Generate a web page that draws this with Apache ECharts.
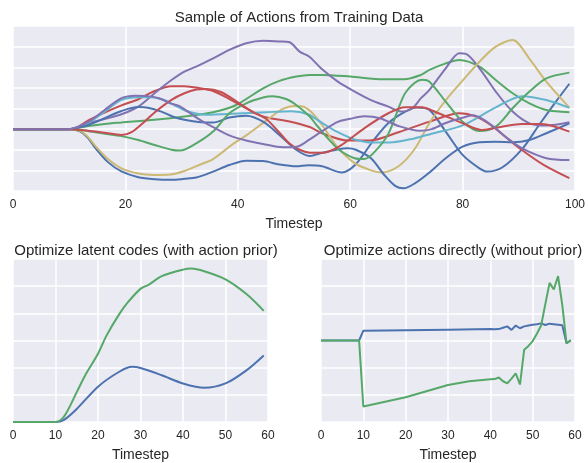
<!DOCTYPE html>
<html>
<head>
<meta charset="utf-8">
<script src="https://cdn.jsdelivr.net/npm/echarts@6/dist/echarts.min.js"></script>
<style>
    html, body { margin: 0; padding: 0; background: #fff; }
    #chart { width: 588px; height: 463px; }
</style>
</head>
<body>
<div id="chart"></div>
<script>
    // top panel: ten sampled action trajectories, [timestep, value]
    const blueLow = [[0,0],[10,0],[12,-0.12],[13.4,-0.45],[14.6,-0.9],[16.9,-1.6],[19.3,-2.05],[22.3,-2.33],[25.2,-2.43],[28.2,-2.46],[30.5,-2.41],[32.6,-2.35],[35.6,-2.06],[38.5,-1.74],[41.5,-1.53],[44.5,-1.55],[47.4,-1.71],[50.4,-1.8],[52.5,-1.75],[55,-1.8],[58.5,-2.1],[61,-1.7],[64,-0.6],[66.8,0.3],[69.8,0.85],[71.8,1.05],[74.1,0.93],[77,-0.12],[80,-1.25],[83,-1.9],[84.4,-2.06],[87.1,-1.85],[90.7,-0.93],[93.6,0.2],[96.6,1.33],[99,2.2]];
    const greenTop = [[0,0],[10,0],[13.4,0.15],[16.3,0.25],[19.3,0.32],[25.2,0.45],[30.5,0.61],[35.6,0.82],[39.7,1.17],[44.5,1.98],[47.4,2.34],[50.4,2.55],[52.8,2.63],[55,2.63],[60,2.55],[66,2.42],[69.6,2.42],[72.6,2.63],[74.1,2.87],[77,3.19],[79.4,3.35],[83,3.03],[85.9,2.38],[88.9,1.74],[91.9,1.25],[94.9,0.93],[99,0.82]];
    const redEarly = [[0,0],[10,0],[11.5,0.1],[13.4,0.42],[16.3,0.8],[19.3,1.15],[22.3,1.45],[25.2,1.85],[28.2,2.08],[30.5,2.08],[33,2.0],[35.6,1.85],[38.5,1.46],[41.5,1.01],[44.5,0.61],[49,0.38],[52.8,0.1],[55,-0.2],[59.5,-0.55],[63.5,-0.55],[68.6,-0.15],[74,0.35],[79.4,0.77],[82.4,0.61],[85,0.2],[87.5,-0.35],[90.5,-1.0],[94.5,-1.75],[99,-2.38]];
    const purpleHigh = [[0,0],[10,0],[13.4,0.28],[16.3,0.49],[19.3,0.72],[22.3,1.09],[25.2,1.74],[28.2,2.38],[30.5,2.79],[32.6,3.03],[35.6,3.43],[38.5,3.84],[41.5,4.16],[44.5,4.28],[47.4,4.25],[49.2,4.21],[51,3.76],[52.8,3.5],[54.8,2.95],[57.8,2.3],[60.8,1.82],[63.7,1.41],[66.7,1.1],[69,0.85],[71,1.0],[72.6,1.5],[74.1,1.9],[77,2.95],[79.4,3.68],[80.6,3.65],[83,2.95],[85.9,1.82],[88.9,0.85],[91.9,0.28],[94.9,0.17],[99,0.33]];
    const yellow = [[0,0],[10,0],[12,-0.1],[13.4,-0.4],[14.6,-0.8],[16.9,-1.45],[19.3,-1.9],[22.3,-2.15],[25,-2.22],[28,-2.2],[30.5,-2.03],[33,-1.75],[35.6,-1.45],[39,-0.75],[41.5,-0.3],[44,0.2],[46.2,0.65],[48,0.98],[50,1.12],[51.5,1.1],[53,0.85],[55,0.2],[57.8,-0.9],[60.8,-1.65],[63.7,-2.0],[65.5,-2.1],[68.6,-1.8],[71.5,-0.95],[74.1,0.3],[77,1.4],[80,2.35],[83,3.27],[85.9,4.0],[88.9,4.32],[91.9,3.41],[94.9,2.3],[99,1.04]];
    const cyan = [[0,0],[10,0],[13.4,0.3],[16.3,0.85],[19.3,1.42],[22.3,1.55],[24.5,1.55],[27,1.4],[28.5,1.2],[30.8,0.88],[34.4,0.7],[39,0.74],[45,0.82],[49.5,0.87],[52.5,0.72],[55,0.3],[57.8,-0.15],[60.8,-0.5],[64,-0.65],[67,-0.65],[71.4,-0.45],[74.5,-0.22],[80,0.18],[85.9,1.05],[90.6,1.6],[94.9,1.41],[99,1.03]];
    const blueMid = [[0,0],[10,0],[12,0.1],[13.4,0.2],[16.3,0.53],[19.3,0.88],[22.3,1.07],[24,1.04],[26.4,0.85],[28.5,0.6],[30.5,0.45],[33,0.35],[35.6,0.32],[38.5,0.56],[41.5,0.65],[44.5,0.36],[47.4,-0.28],[50.4,-1.0],[52.8,-1.3],[55,-1.15],[57.5,-1.0],[59.6,-0.93],[61,-1.0],[63.7,-1.41],[66,-2.2],[68,-2.75],[69.5,-2.87],[71.5,-2.63],[74.1,-2.1],[77,-1.41],[80,-0.85],[83,-0.64],[85.9,-0.61],[88.9,-0.64],[91.9,-0.53],[94.9,-0.2],[99,0.28]];
    const greenLow = [[0,0],[10,0],[13.4,-0.1],[16.3,-0.22],[19.3,-0.34],[22.3,-0.53],[25.2,-0.77],[28.2,-1.0],[29.7,-1.04],[32.6,-0.69],[35.6,-0.12],[38.5,0.77],[41.5,1.25],[44.5,1.53],[46.2,1.59],[48.6,1.46],[50.4,1.17],[52.8,0.61],[54,0.2],[56.3,-0.53],[58,-1.0],[60.8,-1.41],[62.5,-1.45],[64,-1.2],[66.7,-0.28],[69.6,1.66],[71.5,2.25],[72.8,2.39],[74.1,2.3],[77,1.33],[80,0.36],[83,-0.09],[85.9,0.12],[88.9,1.01],[91.9,1.82],[94.9,2.46],[99,2.74]];
    const redLate = [[0,0],[10,0],[13.4,-0.08],[16.3,-0.18],[19.3,-0.28],[21.1,-0.15],[23.4,0.36],[25.2,0.81],[28.2,1.42],[30.5,1.74],[32.6,1.92],[34.4,1.95],[37,1.8],[40,1.3],[42.5,0.85],[45,0.5],[47.5,-0.2],[49.2,-0.7],[51,-1.0],[52.8,-1.14],[55,-1.15],[58,-0.85],[62.8,0.1],[66.8,0.77],[69.8,1.06],[72.7,1.06],[75.7,0.77],[80,0.29],[83.4,-0.04],[87,0.12],[90.5,0.25],[94,0.25],[99,-0.12]];
    const purpleLow = [[0,0],[10,0],[13.4,0.35],[16.3,0.93],[19.3,1.5],[21.7,1.62],[24,1.6],[26,1.5],[28,1.25],[29.7,1.1],[33,0.5],[35.6,0.1],[38.5,-0.3],[41.5,-0.55],[44.5,-0.72],[48,-0.88],[50.5,-0.85],[52.8,-0.5],[55,-0.1],[57.8,0.35],[60,0.5],[62.5,0.62],[65.3,0.53],[68.6,0.15],[72.4,-0.08],[74.5,0],[77,0.3],[80,0.55],[81.8,0.67],[83.5,0.5],[85.9,0.04],[88,-0.45],[90.7,-0.95],[94.9,-1.41],[99,-1.5]];

    // bottom left: optimized latent codes (with prior)
    const priorGreen = [[0,0],[10,0],[12,0.2],[15,1.1],[17,1.72],[20,2.51],[22,3.18],[25,3.97],[27,4.4],[30,4.9],[32,5.06],[35,5.37],[40,5.61],[42,5.65],[45,5.55],[50,5.25],[55,4.7],[59,4.09]];
    const priorBlue = [[0,0],[10,0],[12,0.08],[15,0.48],[20,1.3],[25,1.85],[28,2.03],[30,1.99],[35,1.72],[40,1.42],[45,1.26],[50,1.42],[55,1.91],[59,2.45]];

    // bottom right: optimized actions directly (no prior)
    const directBlue = [[0,3],[9,3],[10,3.36],[20,3.38],[30,3.4],[40,3.42],[41,3.41],[42,3.42],[43,3.47],[44,3.52],[45,3.39],[46,3.55],[47,3.45],[48,3.52],[49,3.55],[50,3.58],[51,3.6],[52,3.63],[53,3.57],[54,3.62],[55,3.6],[56,3.58],[57,3.56],[58,2.9],[59,3.0]];
    const directGreen = [[0,3],[9,3],[10,0.57],[20,0.91],[30,1.36],[35,1.5],[40,1.57],[41,1.58],[42,1.64],[43,1.5],[44,1.42],[45,1.6],[46,1.79],[47,1.38],[48,2.66],[49,2.8],[50,2.98],[51,3.25],[52,3.55],[53,4.35],[54,5.12],[55,4.88],[56,5.37],[57,4.3],[58,2.9],[59,3.02]];

    const topLines = [blueLow, greenTop, redEarly, purpleHigh, yellow, cyan, blueMid, greenLow, redLate, purpleLow];
    const palette = ['#4C72B0', '#55A868', '#C44E52', '#8172B2', '#CCB974', '#64B5CD'];
    const textColor = '#262626';

    function makeX (gridIndex, max, interval) {
        return {
            type: 'value',
            gridIndex: gridIndex,
            min: 0,
            max: max,
            interval: interval,
            name: 'Timestep',
            nameLocation: 'middle',
            nameGap: 26,
            nameTextStyle: { color: textColor, fontSize: 14, fontFamily: 'Liberation Sans' },
            axisLine: { show: false },
            axisTick: { show: false },
            axisLabel: { color: textColor, fontSize: 12, margin: 8, fontFamily: 'Liberation Sans' },
            splitLine: { show: true, lineStyle: { color: '#ffffff', width: 1.5 } }
        };
    }

    function makeY (gridIndex, min, max) {
        return {
            type: 'value',
            gridIndex: gridIndex,
            min: min,
            max: max,
            interval: 1,
            axisLine: { show: false },
            axisTick: { show: false },
            axisLabel: { show: false },
            splitLine: { show: true, lineStyle: { color: '#ffffff', width: 1.5 } }
        };
    }

    function lineSeries (data, color, axisIndex, smooth) {
        return {
            type: 'line',
            xAxisIndex: axisIndex,
            yAxisIndex: axisIndex,
            data: data,
            smooth: smooth ? 0.3 : false,
            showSymbol: false,
            lineStyle: { color: color, width: 2 },
            itemStyle: { color: color },
            silent: true,
            animation: false
        };
    }

    const series = [];
    topLines.forEach(function (d, i) {
        series.push(lineSeries(d, palette[i % palette.length], 0, true));
    });
    series.push(lineSeries(priorBlue, palette[0], 1, true));
    series.push(lineSeries(priorGreen, palette[1], 1, true));
    series.push(lineSeries(directBlue, palette[0], 2, false));
    series.push(lineSeries(directGreen, palette[1], 2, false));

    const gridStyle = { show: true, backgroundColor: '#EAEAF2', borderWidth: 0 };
    const titleStyle = { color: textColor, fontSize: 15, fontWeight: 'normal', fontFamily: 'Liberation Sans' };

    const chart = echarts.init(document.getElementById('chart'), null, { renderer: 'canvas' });
    chart.setOption({
        animation: false,
        title: [
            { text: 'Sample of Actions from Training Data', left: 294, top: 5, textAlign: 'center', textStyle: titleStyle },
            { text: 'Optimize latent codes (with action prior)', left: 141, top: 238, textAlign: 'center', textStyle: titleStyle },
            { text: 'Optimize actions directly (without prior)', left: 448, top: 238, textAlign: 'center', textStyle: titleStyle }
        ],
        grid: [
            Object.assign({ left: 13, top: 26, width: 563, height: 165 }, gridStyle),
            Object.assign({ left: 13, top: 259, width: 255, height: 165 }, gridStyle),
            Object.assign({ left: 321, top: 259, width: 254, height: 165 }, gridStyle)
        ],
        xAxis: [makeX(0, 100, 20), makeX(1, 60, 10), makeX(2, 60, 10)],
        yAxis: [makeY(0, -3, 5), makeY(1, 0, 6), makeY(2, 0, 6)],
        series: series
    });
</script>
</body>
</html>
